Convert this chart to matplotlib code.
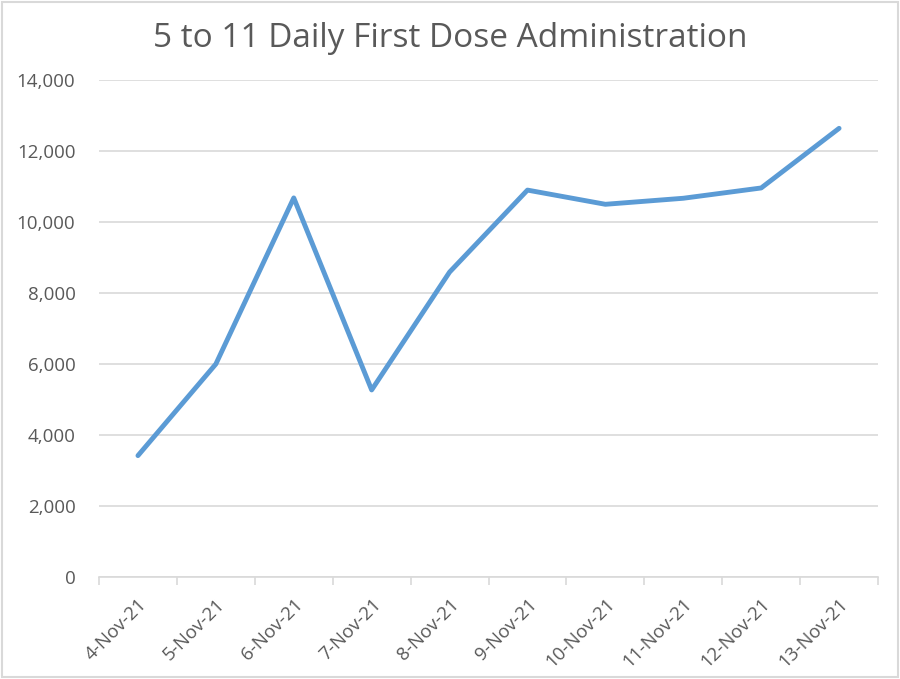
import numpy as np
import matplotlib
matplotlib.use('Agg')
import matplotlib.pyplot as plt

plt.rcParams['font.family'] = ['Open Sans', 'DejaVu Sans']

# daily first doses, ages 5 to 11
dates = ['4-Nov-21', '5-Nov-21', '6-Nov-21', '7-Nov-21', '8-Nov-21',
         '9-Nov-21', '10-Nov-21', '11-Nov-21', '12-Nov-21', '13-Nov-21']
doses = [3420, 6000, 10680, 5270, 8590, 10900, 10500, 10670, 10960, 12640]
yticks = [0, 2000, 4000, 6000, 8000, 10000, 12000, 14000]

TEXT = '#595959'
GRID = '#D9D9D9'
BLUE = '#5B9BD5'

fig = plt.figure(figsize=(9, 6.79), dpi=100)
ax = fig.add_axes([0.11, 0.1502, 0.8656, 0.7319])

x = np.arange(len(dates))
ax.plot(x, doses, color=BLUE, lw=3.5, solid_joinstyle='round', solid_capstyle='round')

ax.set_xlim(-0.5, len(dates) - 0.5)
ax.set_ylim(0, 14000)
ax.set_yticks(yticks)
ax.set_yticklabels(['{:,}'.format(v) for v in yticks])
ax.yaxis.grid(True, color=GRID, lw=1.2)
ax.set_axisbelow(True)

# category labels at centers, tick marks at boundaries
ax.set_xticks(x)
ax.set_xticklabels(dates, rotation=45, ha='right', rotation_mode='anchor')
ax.set_xticks(np.arange(-0.5, len(dates)), minor=True)
ax.tick_params(axis='x', which='major', length=0, pad=13, labelsize=13.5, labelcolor=TEXT)
ax.tick_params(axis='x', which='minor', length=6, width=1.2, color=GRID, direction='out')
ax.tick_params(axis='y', length=0, pad=17, labelsize=13.5, labelcolor=TEXT)

for s in ['top', 'right', 'left']:
    ax.spines[s].set_visible(False)
ax.spines['bottom'].set_color(GRID)
ax.spines['bottom'].set_linewidth(1.2)

fig.text(0.5, 0.943, '5 to 11 Daily First Dose Administration', ha='center', va='center',
         fontsize=24, color=TEXT)

# light frame around the chart
fig.patches.append(plt.Rectangle((0.002, 0.003), 0.996, 0.994, transform=fig.transFigure,
                                 fill=False, edgecolor=GRID, lw=1.5))

fig.savefig('out.png', dpi=100)
